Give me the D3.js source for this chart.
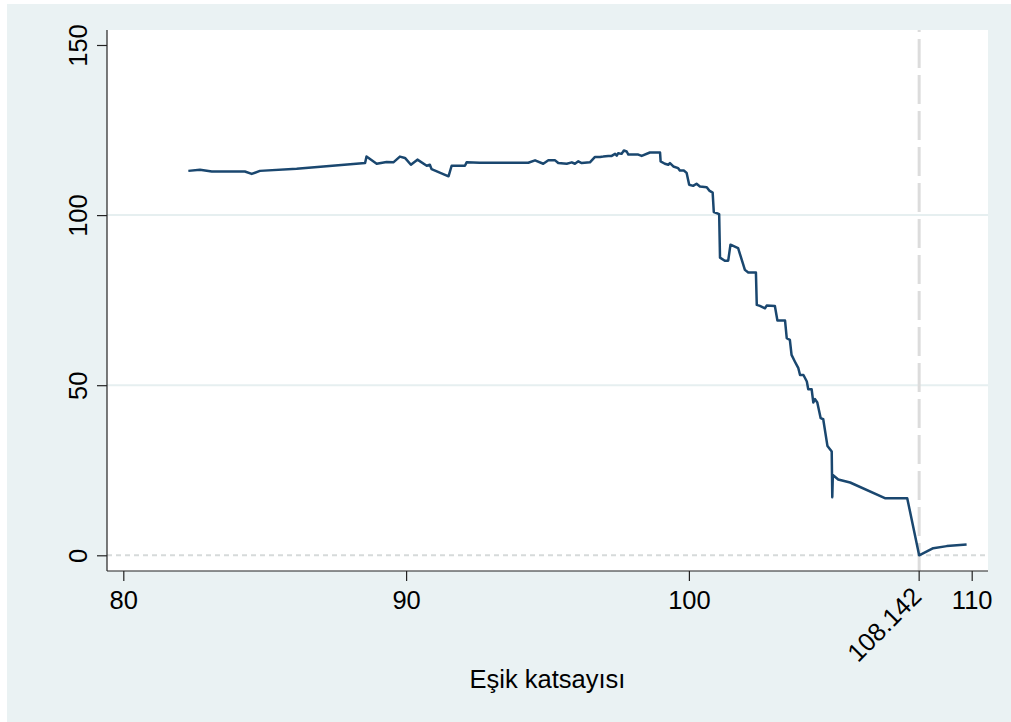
<!DOCTYPE html>
<html>
<head>
<meta charset="utf-8">
<script src="https://cdn.jsdelivr.net/npm/d3@7"></script>
<style>
  html, body { margin: 0; padding: 0; background: #ffffff; }
  svg { display: block; }
  text { font-family: "Liberation Sans", Arial, sans-serif; fill: #000; }
</style>
</head>
<body>
<svg id="chart" width="1011" height="722"></svg>
<script>
// Threshold coefficient (x) and resulting criterion value (y)
const thresholdX = [
  82.3, 82.71, 83.13, 84.3, 84.54, 84.83, 86.13, 88.55, 88.6, 88.96,
  89.31, 89.55, 89.78, 89.96, 90.17, 90.4, 90.73, 90.84, 90.9, 91.5,
  91.61, 92.08, 92.14, 92.6, 94.32, 94.56, 94.85, 95.03, 95.27, 95.38,
  95.68, 95.86, 95.97, 96.09, 96.21, 96.5, 96.68, 96.86, 96.97, 97.15,
  97.27, 97.39, 97.45, 97.5, 97.62, 97.7, 97.8, 97.86, 98.21, 98.33,
  98.62, 98.98, 99.0, 99.15, 99.27, 99.33, 99.45, 99.62, 99.68, 99.82,
  99.92, 100.01, 100.15, 100.27, 100.39, 100.63, 100.72, 100.84, 100.88, 101.07,
  101.1, 101.27, 101.39, 101.47, 101.74, 101.98, 102.1, 102.37, 102.4, 102.51,
  102.69, 102.75, 103.04, 103.13, 103.4, 103.46, 103.57, 103.63, 103.75, 103.87,
  103.93, 104.05, 104.17, 104.22, 104.34, 104.4, 104.46, 104.54, 104.66, 104.75,
  104.9, 105.05, 105.07, 105.09, 105.28, 105.7, 106.93, 107.72, 108.142, 108.64,
  109.12, 109.82
];
const criterionY = [
  113.0, 113.3, 112.8, 112.8, 112.1, 113.0, 113.6, 115.3, 117.2, 115.1,
  115.6, 115.5, 117.2, 116.8, 114.8, 116.3, 114.5, 114.8, 113.5, 111.4,
  114.5, 114.5, 115.5, 115.4, 115.4, 116.1, 115.1, 116.1, 116.1, 115.3,
  115.1, 115.5, 115.1, 115.8, 115.3, 115.5, 117.1, 117.1, 117.2, 117.4,
  117.4, 118.0, 117.5, 118.2, 118.0, 119.0, 118.7, 117.8, 117.8, 117.4,
  118.4, 118.4, 115.8, 115.1, 114.8, 115.3, 114.3, 113.8, 113.1, 113.1,
  112.4, 108.9, 108.6, 109.2, 108.4, 108.2, 107.2, 106.6, 100.9, 100.3,
  87.5, 86.6, 86.6, 91.3, 90.3, 83.9, 83.1, 83.1, 73.6, 73.3,
  72.6, 73.4, 73.3, 69.0, 69.0, 63.8, 63.3, 58.9, 56.9, 55.0,
  53.0, 53.0, 51.1, 48.8, 48.8, 44.9, 45.9, 44.9, 40.3, 40.0,
  32.1, 30.5, 17.1, 23.6, 22.3, 21.4, 16.8, 16.8, 0.0, 2.1,
  2.7, 3.2
];

// Axis ticks and labels
const xTicks = [80, 90, 100, 110];
const yTicks = [0, 50, 100, 150];
const yGrid = [50, 100];
const optimalThreshold = 108.142;
const xTitle = "Eşik katsayısı";

const svg = d3.select("#chart");
const W = 1011, H = 722;

// Plot region bounds
const plot = { left: 107, right: 988, top: 30, bottom: 571 };

const x = d3.scaleLinear().domain([80, 110]).range([123.3, 971.7]);
const y = d3.scaleLinear().domain([0, 150]).range([555.3, 45]);

// Outer background and plot panel
svg.append("rect").attr("x", 7).attr("y", 4).attr("width", W - 7).attr("height", H - 4)
  .attr("fill", "#eaf2f3");
svg.append("rect").attr("x", plot.left).attr("y", plot.top)
  .attr("width", plot.right - plot.left).attr("height", plot.bottom - plot.top)
  .attr("fill", "#ffffff");

// Horizontal grid lines
svg.append("g").selectAll("line").data(yGrid).join("line")
  .attr("x1", plot.left).attr("x2", plot.right)
  .attr("y1", d => y(d)).attr("y2", d => y(d))
  .attr("stroke", "#e6eff0").attr("stroke-width", 2);

// Zero reference line (dotted)
svg.append("line")
  .attr("x1", plot.left).attr("x2", plot.right)
  .attr("y1", y(0)).attr("y2", y(0))
  .attr("stroke", "#d6dada").attr("stroke-width", 2)
  .attr("stroke-dasharray", "5,4");

// Vertical dashed line at the optimal threshold
svg.append("line")
  .attr("x1", x(optimalThreshold)).attr("x2", x(optimalThreshold))
  .attr("y1", plot.top).attr("y2", plot.bottom)
  .attr("stroke", "#dcdcdc").attr("stroke-width", 3)
  .attr("stroke-dasharray", "29,7").attr("stroke-dashoffset", 27);

// Data line
const pts = thresholdX.map((d, i) => [d, criterionY[i]]);
svg.append("path")
  .datum(pts)
  .attr("fill", "none")
  .attr("stroke", "#1a476f")
  .attr("stroke-width", 2.5)
  .attr("stroke-linejoin", "round")
  .attr("d", d3.line().x(d => x(d[0])).y(d => y(d[1])));

// Y axis
const yAxis = svg.append("g").attr("transform", `translate(${plot.left},0)`)
  .call(d3.axisLeft(y).tickValues(yTicks).tickSize(10).tickFormat(d3.format("d")));
yAxis.select(".domain").remove();
yAxis.selectAll(".tick line").attr("stroke", "#222").attr("stroke-width", 1.2);
yAxis.selectAll(".tick text")
  .attr("x", null).attr("dy", null)
  .attr("transform", "translate(-20,0) rotate(-90)")
  .attr("text-anchor", "middle")
  .style("font-size", "25.5px")
  .style("font-family", "'Liberation Sans', Arial, sans-serif");

// X axis
const xAxis = svg.append("g").attr("transform", `translate(0,${plot.bottom})`)
  .call(d3.axisBottom(x).tickValues(xTicks).tickSize(10).tickFormat(d3.format("d")));
xAxis.select(".domain").remove();
xAxis.selectAll(".tick line").attr("stroke", "#222").attr("stroke-width", 1.2);
xAxis.selectAll(".tick text")
  .attr("y", 38).attr("dy", null)
  .style("font-size", "25.5px")
  .style("font-family", "'Liberation Sans', Arial, sans-serif");

// Extra tick for the optimal threshold, label angled
const optTick = svg.append("g")
  .attr("transform", `translate(${x(optimalThreshold)},${plot.bottom})`);
optTick.append("line").attr("y2", 10).attr("stroke", "#222").attr("stroke-width", 1.2);
optTick.append("text")
  .attr("transform", "translate(4,27) rotate(-45)")
  .attr("text-anchor", "end")
  .style("font-size", "25.5px")
  .text(d3.format(".3f")(optimalThreshold));

// Axis lines
svg.append("line").attr("x1", plot.left).attr("x2", plot.left)
  .attr("y1", plot.top).attr("y2", plot.bottom)
  .attr("stroke", "#222").attr("stroke-width", 1.2);
svg.append("line").attr("x1", plot.left).attr("x2", plot.right)
  .attr("y1", plot.bottom).attr("y2", plot.bottom)
  .attr("stroke", "#222").attr("stroke-width", 1.2);

// Axis title
svg.append("text")
  .attr("x", (plot.left + plot.right) / 2).attr("y", 688)
  .attr("text-anchor", "middle")
  .style("font-size", "25.5px")
  .text(xTitle);
</script>
</body>
</html>
